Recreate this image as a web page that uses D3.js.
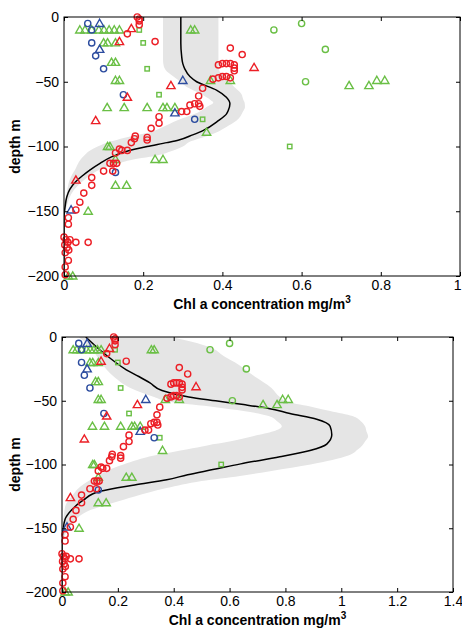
<!DOCTYPE html>
<html>
<head>
<meta charset="utf-8">
<script src="https://cdn.jsdelivr.net/npm/d3@7"></script>
<style>
  body { margin: 0; background: #fff; }
  svg { display: block; font-family: "Liberation Sans", Arial, sans-serif; }
</style>
</head>
<body>
<div id="chart"></div>
<script>
// scatter data, [chl, depth] -- same samples in both panels
const redCircles = [
  [0.185, 0], [0.19, -1.5], [0.19, -3], [0.19, -6], [0.16, -13], [0.23, -19], [0.42, -24], [0.45, -29],
  [0.39, -37], [0.40, -36], [0.41, -36], [0.42, -36], [0.43, -37], [0.43, -39.5], [0.43, -41.5],
  [0.376, -48], [0.39, -47], [0.40, -46], [0.41, -46], [0.42, -47],
  [0.35, -55], [0.34, -61], [0.318, -68], [0.33, -67], [0.34, -67], [0.343, -69], [0.297, -73], [0.31, -73],
  [0.24, -77], [0.24, -82], [0.22, -86], [0.18, -92], [0.178, -94], [0.21, -93], [0.21, -95], [0.17, -97],
  [0.14, -102], [0.146, -103], [0.16, -103], [0.13, -105], [0.116, -113], [0.125, -113], [0.133, -113],
  [0.10, -119], [0.123, -119], [0.07, -124], [0.07, -130], [0.05, -136], [0.04, -143], [0.03, -149],
  [0.011, -155], [0.011, -160],
  [0.0, -170], [0.005, -172], [0.01, -174], [0.015, -172], [0.002, -176], [0.008, -178], [0.012, -180],
  [0.003, -182], [0.03, -174], [0.061, -174], [0.011, -188], [0.003, -193], [0.003, -199]
];
const redTriangles = [[0.17, -9], [0.14, -19], [0.48, -39], [0.27, -53], [0.16, -62], [0.08, -80], [0.03, -126]];
const blueCircles = [[0.06, -5], [0.07, -10], [0.07, -20], [0.08, -30], [0.10, -40], [0.15, -60], [0.33, -79], [0.13, -120]];
const blueTriangles = [[0.09, -5], [0.09, -25], [0.30, -49], [0.28, -74], [0.018, -149]];
const greenCircles = [[0.60, -5], [0.53, -10], [0.66, -25], [0.61, -50]];
const greenSquares = [[0.19, -10], [0.20, -20], [0.21, -40], [0.24, -60], [0.35, -79], [0.57, -100]];
const greenTriangles = [
  [0.04, -10], [0.053, -10], [0.07, -10], [0.088, -10], [0.101, -10], [0.114, -10], [0.127, -10], [0.14, -10],
  [0.32, -10], [0.33, -10], [0.10, -20], [0.11, -20], [0.13, -20], [0.12, -35], [0.13, -35],
  [0.13, -49], [0.14, -49], [0.37, -49], [0.42, -49], [0.79, -49], [0.81, -49], [0.72, -53], [0.77, -53],
  [0.109, -70], [0.152, -70], [0.21, -70], [0.25, -70], [0.26, -70], [0.28, -70], [0.36, -89],
  [0.11, -100], [0.116, -100], [0.13, -110], [0.23, -110], [0.25, -110], [0.13, -130], [0.158, -130],
  [0.061, -150], [0.011, -200], [0.022, -200]
];

// model profile and range, top panel: [depth, chl] and [depth, low, high]
const topCurve = [
  [0, 0.295], [-20, 0.295], [-30, 0.297], [-36, 0.30], [-40, 0.305], [-46, 0.318], [-50, 0.335],
  [-56.6, 0.386], [-62, 0.41], [-67, 0.419], [-72, 0.415], [-75, 0.41], [-80, 0.39], [-87.5, 0.352],
  [-91, 0.325], [-95, 0.29], [-97, 0.26], [-100, 0.21], [-104, 0.155], [-108, 0.12], [-113, 0.091],
  [-118, 0.066], [-123, 0.045], [-128, 0.027], [-133, 0.015], [-139, 0.007], [-146, 0.003], [-155, 0.0], [-200, 0.0]
];
const topBand = [
  [0, 0.25, 0.39], [-33, 0.25, 0.39], [-38, 0.252, 0.39], [-42, 0.26, 0.393], [-44, 0.268, 0.40],
  [-49, 0.29, 0.415], [-54, 0.31, 0.43], [-59, 0.343, 0.447], [-64, 0.37, 0.453], [-66, 0.377, 0.456],
  [-69.5, 0.36, 0.457], [-73, 0.343, 0.452], [-80, 0.285, 0.436], [-85, 0.25, 0.41], [-89, 0.217, 0.386],
  [-92, 0.17, 0.36], [-96, 0.12, 0.32], [-100, 0.085, 0.30], [-103, 0.066, 0.276], [-108, 0.048, 0.217],
  [-110, 0.042, 0.175], [-114, 0.034, 0.13], [-118, 0.028, 0.09], [-122, 0.02, 0.068], [-126, 0.014, 0.05],
  [-134, 0.008, 0.024], [-146, 0.002, 0.007], [-155, 0, 0.001], [-200, 0, 0]
];

// bottom panel
const botCurve = [
  [0, 0.085], [-10, 0.135], [-19.6, 0.19], [-25, 0.225], [-31, 0.275], [-36, 0.315], [-42, 0.358],
  [-47, 0.454], [-50, 0.55], [-53, 0.65], [-56, 0.74], [-60, 0.816], [-64.5, 0.912], [-70, 0.96],
  [-76.7, 0.966], [-84, 0.948], [-89, 0.888], [-94, 0.78], [-99.5, 0.64], [-104, 0.54], [-108, 0.45],
  [-112, 0.375], [-116, 0.26], [-121, 0.136], [-128, 0.076], [-135.5, 0.035], [-143, 0.011], [-153, 0.003],
  [-160, 0.0], [-200, 0.0]
];
const botBand = [
  [0, 0.06, 0.39], [-8, 0.10, 0.53], [-15, 0.125, 0.58], [-20, 0.14, 0.62], [-31, 0.185, 0.69],
  [-40, 0.245, 0.75], [-47, 0.33, 0.78], [-51, 0.39, 0.81], [-55, 0.55, 0.90], [-58, 0.65, 0.96],
  [-62, 0.74, 1.04], [-66, 0.77, 1.07], [-70, 0.787, 1.085], [-74, 0.757, 1.09], [-78, 0.68, 1.096],
  [-82, 0.60, 1.085], [-85, 0.52, 1.075], [-88, 0.45, 1.06], [-93, 0.33, 1.025], [-100, 0.22, 0.89],
  [-105, 0.16, 0.75], [-109, 0.13, 0.637], [-113, 0.095, 0.50], [-118.5, 0.06, 0.375], [-125, 0.035, 0.26],
  [-130, 0.017, 0.184], [-137, 0.008, 0.088], [-143, 0.005, 0.05], [-148.6, 0.002, 0.029],
  [-158, 0, 0.005], [-165, 0, 0], [-200, 0, 0]
];

const xTicksTop = [0, 0.2, 0.4, 0.6, 0.8, 1];
const xTicksBot = [0, 0.2, 0.4, 0.6, 0.8, 1, 1.2, 1.4];
const yTicks = [0, -50, -100, -150, -200];

const red = "#ec1f26", blue = "#2c4c9f", green = "#6abf45", bandColor = "#e5e5e5";

const svg = d3.select("#chart")
  .append("svg")
  .attr("width", 462)
  .attr("height", 629);

function drawPanel(id, box, xMax, xTicks, curve, band) {
  const x = d3.scaleLinear().domain([0, xMax]).range([box.left, box.right]);
  const y = d3.scaleLinear().domain([-200, 0]).range([box.bottom, box.top]);

  const g = svg.append("g");
  g.append("clipPath").attr("id", id)
    .append("rect")
    .attr("x", box.left).attr("y", box.top)
    .attr("width", box.right - box.left).attr("height", box.bottom - box.top);

  const inner = g.append("g").attr("clip-path", `url(#${id})`);

  const area = d3.area()
    .y(d => y(d[0]))
    .x0(d => x(d[1]))
    .x1(d => x(d[2]))
    .curve(d3.curveMonotoneY);
  inner.append("path").datum(band).attr("d", area).attr("fill", bandColor);

  const line = d3.line()
    .y(d => y(d[0]))
    .x(d => x(d[1]))
    .curve(d3.curveMonotoneY);
  inner.append("path").datum(curve).attr("d", line)
    .attr("fill", "none").attr("stroke", "#000").attr("stroke-width", 1.5);

  const tri = d3.symbol().type(d3.symbolTriangle).size(30);
  const sw = 1.4;

  function triangles(data, color) {
    g.selectAll(null).data(data).join("path")
      .attr("d", tri)
      .attr("transform", d => `translate(${x(d[0])},${y(d[1]) + 0.6})`)
      .attr("fill", "none").attr("stroke", color).attr("stroke-width", sw);
  }
  function circles(data, color) {
    g.selectAll(null).data(data).join("circle")
      .attr("cx", d => x(d[0])).attr("cy", d => y(d[1])).attr("r", 3.1)
      .attr("fill", "none").attr("stroke", color).attr("stroke-width", sw);
  }
  function squares(data, color) {
    g.selectAll(null).data(data).join("rect")
      .attr("x", d => x(d[0]) - 2.2).attr("y", d => y(d[1]) - 2.2)
      .attr("width", 4.4).attr("height", 4.4)
      .attr("fill", "none").attr("stroke", color).attr("stroke-width", sw);
  }

  triangles(greenTriangles, green);
  circles(greenCircles, green);
  squares(greenSquares, green);
  circles(blueCircles, blue);
  triangles(blueTriangles, blue);
  triangles(redTriangles, red);
  circles(redCircles, red);

  // axes, ticks pointing inward on all four sides
  const fmt = d => (d < 0 ? "\u2212" + Math.abs(d) : String(d));
  const axB = g.append("g").attr("transform", `translate(0,${box.bottom})`)
    .call(d3.axisBottom(x).tickValues(xTicks).tickFormat(fmt).tickSizeInner(-4).tickSizeOuter(0).tickPadding(4));
  const axT = g.append("g").attr("transform", `translate(0,${box.top})`)
    .call(d3.axisTop(x).tickValues(xTicks).tickFormat("").tickSizeInner(-4).tickSizeOuter(0));
  const axL = g.append("g").attr("transform", `translate(${box.left},0)`)
    .call(d3.axisLeft(y).tickValues(yTicks).tickFormat(fmt).tickSizeInner(-4).tickSizeOuter(0).tickPadding(5));
  const axR = g.append("g").attr("transform", `translate(${box.right},0)`)
    .call(d3.axisRight(y).tickValues(yTicks).tickFormat("").tickSizeInner(-4).tickSizeOuter(0));
  [axB, axT, axL, axR].forEach(a => {
    a.select(".domain").remove();
    a.selectAll("text").attr("font-size", 14).attr("font-family", "Liberation Sans, Arial, sans-serif").attr("fill", "#000");
    a.selectAll("line").attr("stroke", "#000");
  });
  // keep the last x label inside the page edge
  axB.selectAll("text").filter(d => x(d) > 456).attr("text-anchor", "end").attr("dx", 1);

  g.append("rect")
    .attr("x", box.left).attr("y", box.top)
    .attr("width", box.right - box.left).attr("height", box.bottom - box.top)
    .attr("fill", "none").attr("stroke", "#000").attr("stroke-width", 1);

  // labels
  const xl = g.append("text")
    .attr("x", (box.left + box.right) / 2).attr("y", box.bottom + 33)
    .attr("text-anchor", "middle")
    .attr("font-size", 14).attr("font-weight", "bold");
  xl.append("tspan").text("Chl a concentration mg/m");
  xl.append("tspan").text("3").attr("font-size", 10).attr("dy", -6);

  g.append("text")
    .attr("transform", `translate(20,${(box.top + box.bottom) / 2}) rotate(-90)`)
    .attr("text-anchor", "middle")
    .attr("font-size", 14).attr("font-weight", "bold")
    .text("depth m");
}

drawPanel("clipTop", {left: 64, right: 460, top: 17, bottom: 276}, 1, xTicksTop, topCurve, topBand);
drawPanel("clipBot", {left: 62, right: 453, top: 337, bottom: 592}, 1.4, xTicksBot, botCurve, botBand);
</script>
</body>
</html>
